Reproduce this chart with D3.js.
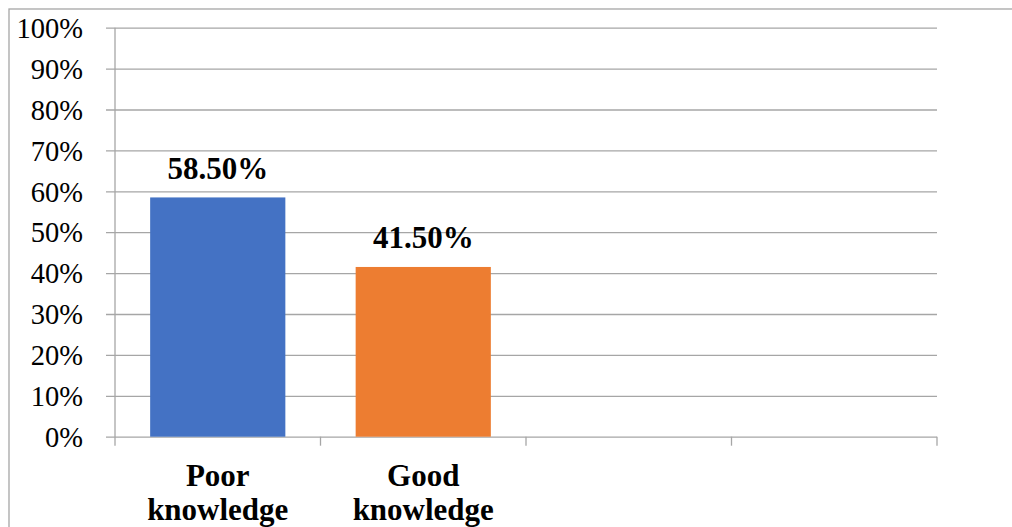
<!DOCTYPE html>
<html>
<head>
<meta charset="utf-8">
<script src="https://cdn.jsdelivr.net/npm/d3@7"></script>
<style>
  html, body { margin: 0; padding: 0; background: #fff; }
  svg text { font-family: "Liberation Serif", "Times New Roman", Times, serif; }
</style>
</head>
<body>
<svg width="1012" height="527"></svg>
<script>
// chart data
var categories = ["Poor knowledge", "Good knowledge", "", ""];
var values = [0.585, 0.415, null, null];
var valueLabels = ["58.50%", "41.50%", "", ""];
var barColors = ["#4472C4", "#ED7D31"];
var yTicks = [0, 0.1, 0.2, 0.3, 0.4, 0.5, 0.6, 0.7, 0.8, 0.9, 1];

var width = 1012, height = 527;
var plot = {left: 115, right: 937, top: 27.7, bottom: 436.7};
var gridColor = "#a6a6a6";
var serif = "'Liberation Serif', 'Times New Roman', Times, serif";

var svg = d3.select("svg");

// outer chart frame (runs off the right and bottom of the picture)
svg.append("rect")
  .attr("x", 9).attr("y", 9)
  .attr("width", width + 20).attr("height", height + 20)
  .attr("fill", "none")
  .attr("stroke", gridColor)
  .attr("stroke-width", 1.3);

var x = d3.scaleBand()
  .domain(d3.range(categories.length))
  .range([plot.left, plot.right]);

var y = d3.scaleLinear()
  .domain([0, 1])
  .range([plot.bottom, plot.top]);

// gridlines + y ticks
var yAxis = d3.axisLeft(y)
  .tickValues(yTicks)
  .tickSize(-(plot.right - plot.left) - 9)
  .tickFormat(d3.format(".0%"));

var gy = svg.append("g")
  .attr("transform", "translate(" + (plot.left - 9) + ",0)")
  .call(yAxis)
  .attr("font-family", serif)
  .attr("font-size", null);
gy.select(".domain").remove();
gy.selectAll(".tick line")
  .attr("stroke", gridColor)
  .attr("stroke-width", 1.3);
gy.selectAll(".tick text")
  .attr("x", -23)
  .attr("dy", "0.34em")
  .attr("fill", "#000")
  .attr("font-family", serif)
  .attr("font-size", 28.5);

// y axis line
svg.append("line")
  .attr("x1", plot.left).attr("x2", plot.left)
  .attr("y1", plot.top).attr("y2", plot.bottom + 9)
  .attr("stroke", gridColor).attr("stroke-width", 1.3);

// category boundary ticks
var bounds = d3.range(categories.length + 1).map(function(i) {
  return i < categories.length ? x(i) : plot.right;
});
svg.selectAll(".xtick")
  .data(bounds.slice(1))
  .enter().append("line")
  .attr("class", "xtick")
  .attr("x1", function(d) { return d; })
  .attr("x2", function(d) { return d; })
  .attr("y1", plot.bottom)
  .attr("y2", plot.bottom + 9)
  .attr("stroke", gridColor).attr("stroke-width", 1.3);

// bars (gap width 52%)
var barW = x.step() / 1.52;
var barData = values.map(function(v, i) { return {i: i, v: v}; })
  .filter(function(d) { return d.v != null; });

svg.selectAll(".bar")
  .data(barData)
  .enter().append("rect")
  .attr("class", "bar")
  .attr("x", function(d) { return x(d.i) + (x.step() - barW) / 2; })
  .attr("width", barW)
  .attr("y", function(d) { return y(d.v); })
  .attr("height", function(d) { return y(0) - y(d.v); })
  .attr("fill", function(d) { return barColors[d.i]; });

// value labels
svg.selectAll(".vlabel")
  .data(barData)
  .enter().append("text")
  .attr("class", "vlabel")
  .attr("x", function(d) { return x(d.i) + x.step() / 2; })
  .attr("y", function(d) { return y(d.v) - 18.5; })
  .attr("text-anchor", "middle")
  .attr("font-family", serif)
  .attr("font-size", 31)
  .attr("font-weight", "bold")
  .text(function(d) { return valueLabels[d.i]; });

// category labels, wrapped onto two lines
var cl = svg.selectAll(".clabel")
  .data(categories)
  .enter().append("text")
  .attr("class", "clabel")
  .attr("text-anchor", "middle")
  .attr("font-family", serif)
  .attr("font-size", 31)
  .attr("font-weight", "bold");

cl.each(function(d, i) {
  var words = d.split(" ").filter(function(w) { return w.length; });
  var t = d3.select(this);
  words.forEach(function(w, k) {
    t.append("tspan")
      .attr("x", x(i) + x.step() / 2)
      .attr("y", 485.7 + k * 34.3)
      .text(w);
  });
});
</script>
</body>
</html>
